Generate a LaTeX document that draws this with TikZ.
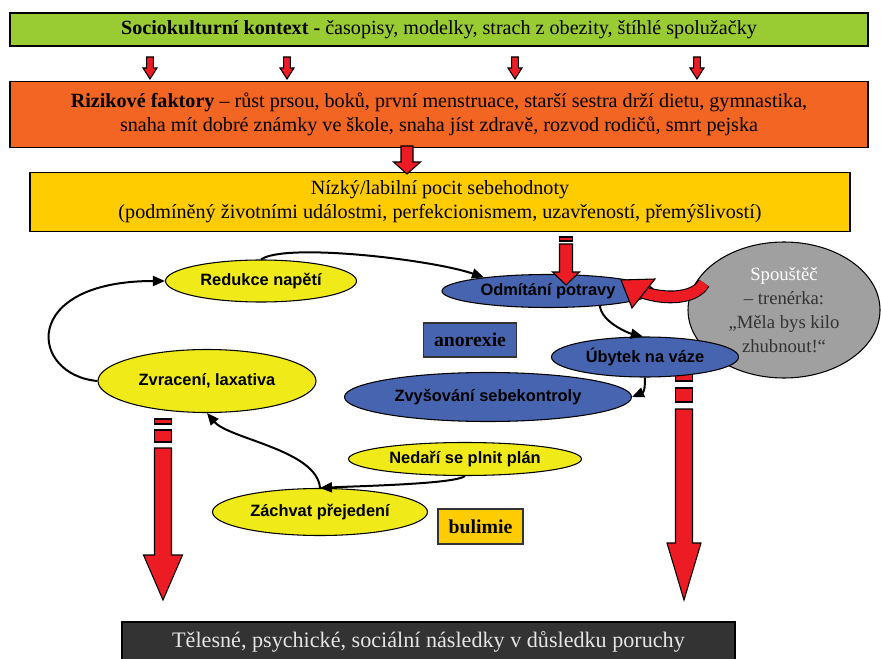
\documentclass[tikz,border=0pt]{standalone}
\usepackage{fontspec}
\setmainfont{Liberation Serif}
\setsansfont{Liberation Sans}
\usepackage{tikz}
\usetikzlibrary{positioning, shapes.geometric, arrows.meta}

\definecolor{ctxgreen}{RGB}{153,204,51}
\definecolor{riskorange}{RGB}{242,101,34}
\definecolor{selfyellow}{RGB}{255,204,0}
\definecolor{ovalyellow}{RGB}{240,234,24}
\definecolor{ovalblue}{RGB}{70,100,176}
\definecolor{triggergrey}{RGB}{160,160,160}
\definecolor{arrowred}{RGB}{237,28,36}
\definecolor{outcomegrey}{RGB}{51,51,51}

\begin{document}
\begin{tikzpicture}[x=0.75pt, y=-0.75pt]
    \tikzstyle{band} = [rectangle, draw=black, line width=0.8pt, text centered, align=center, font=\fontsize{15.1}{18}\selectfont]
    \tikzstyle{oval} = [ellipse, draw=black, line width=0.8pt, inner sep=0pt, font=\sffamily\bfseries\fontsize{12.3}{14}\selectfont]
    \tikzstyle{tag} = [rectangle, draw=black!80, line width=0.8pt, font=\bfseries\fontsize{14.8}{16}\selectfont]
    \tikzstyle{flow} = [-{Triangle[length=9pt, width=7.5pt]}, line width=1.5pt]
    \tikzstyle{fat} = [fill=arrowred, draw=black, line width=0.8pt, line join=miter]
    \useasboundingbox (0,0) rectangle (881,659);

    % boxes on top
    \node (context) [band, fill=ctxgreen, minimum width=643.5pt, minimum height=24.75pt] at (439,29.5)
        {\textbf{Sociokulturní kontext -} časopisy, modelky, strach z obezity, štíhlé spolužačky};
    \node (risk) [band, fill=riskorange, minimum width=643.5pt, minimum height=49.5pt, below=25.5pt of context]
        {\textbf{Rizikové faktory} – růst prsou, boků, první menstruace, starší sestra drží dietu, gymnastika,\\
         snaha mít dobré známky ve škole, snaha jíst zdravě, rozvod rodičů, smrt pejska};
    \node (selfworth) [band, fill=selfyellow, minimum width=615pt, minimum height=44.25pt, below=18pt of risk, xshift=0.75pt]
        {Nízký/labilní pocit sebehodnoty\\
         (podmíněný životními událostmi, perfekcionismem, uzavřeností, přemýšlivostí)};
    \node (outcome) [band, fill=outcomegrey, text=black!10, minimum width=459.75pt, minimum height=30pt,
        font=\fontsize{16.6}{18}\selectfont] at (428.5,642)
        {Tělesné, psychické, sociální následky v důsledku poruchy};

    % small arrows
    \foreach \ax in {150,287,515,697}
        \draw[fat] (\ax-3.4,57) -- (\ax+3.4,57) -- (\ax+3.4,68) -- (\ax+7,68) -- (\ax,79) -- (\ax-7,68) -- (\ax-3.4,68) -- cycle;
    \draw[fat] (401,146) -- (413,146) -- (413,162) -- (420.5,162) -- (407,174) -- (393.5,162) -- (401,162) -- cycle;

    % trigger
    \node (trigger) [ellipse, draw=black, line width=0.8pt, fill=triggergrey, inner sep=0pt, minimum width=144pt, minimum height=102pt,
        align=center, font=\fontsize{14}{18}\selectfont, text=black!80] at (784,310)
        {\textcolor{white}{Spouštěč}\\– trenérka:\\„Měla bys kilo\\zhubnout!“};

    % long arrows
    \draw[fat] (154.5,419) rectangle (171.5,424);
    \draw[fat] (154.5,430) rectangle (171.5,442);
    \draw[fat] (154.5,448) -- (171.5,448) -- (171.5,555) -- (182.5,555) -- (163,600) -- (143.5,555) -- (154.5,555) -- cycle;
    \draw[fat] (675.5,372) rectangle (692.5,381);
    \draw[fat] (675.5,388) rectangle (692.5,402);
    \draw[fat] (675.5,409) -- (692.5,409) -- (692.5,543) -- (701,543) -- (684,600) -- (667,543) -- (675.5,543) -- cycle;

    % cycle
    \node (reduce) [oval, fill=ovalyellow, minimum width=143.25pt, minimum height=31.5pt] at (261,281) {Redukce napětí};
    \node (vomit) [oval, fill=ovalyellow, minimum width=163.5pt, minimum height=47.25pt] at (207,381) {Zvracení, laxativa};
    \node (refuse) [oval, fill=ovalblue, minimum width=159pt, minimum height=24.75pt] at (548,291) {Odmítání potravy};
    \node (loss) [oval, fill=ovalblue, minimum width=140.25pt, minimum height=30pt] at (645,357) {Úbytek na váze};
    \node (control) [oval, fill=ovalblue, minimum width=215.25pt, minimum height=36.75pt] at (488,397) {Zvyšování sebekontroly};
    \node (fail) [oval, fill=ovalyellow, minimum width=174.75pt, minimum height=24.75pt] at (465,459) {Nedaří se plnit plán};
    \node (binge) [oval, fill=ovalyellow, minimum width=161.25pt, minimum height=35.25pt] at (320,512) {Záchvat přejedení};

    \node (anorexia) [tag, fill=ovalblue, minimum width=69.75pt, minimum height=25.5pt] at (470,340) {anorexie};
    \node (bulimia) [tag, fill=selfyellow, minimum width=63.75pt, minimum height=26.25pt] at (480.5,526.5) {bulimie};

    \draw[flow] (reduce.north) .. controls +(24,-17) and +(-53,-18) .. (refuse.168);
    \draw[flow] (vomit.west) .. controls +(-68,-6) and +(-146,0) .. (reduce.west);
    \draw[flow] (refuse.-16) .. controls +(2,17) and +(-13,-3) .. (loss.96);
    \draw[flow] (loss.south) .. controls +(0,10) and +(12,-5) .. (control.east);
    \draw[flow] (fail.south) .. controls +(-10,8) and +(40,-2) .. (binge.north);
    \draw[flow] (binge.north) .. controls +(-3,-38) and +(22,26) .. (vomit.south);

    % red arrows into refusal
    \draw[fat] (559.5,237) rectangle (572.5,241);
    \draw[fat] (559.5,244) -- (572.5,244) -- (572.5,272) -- (579.5,272) -- (566,285) -- (552.5,272) -- (559.5,272) -- cycle;
    \draw[double=arrowred, double distance=8pt, line width=0.8pt] (704,283) .. controls (695,299) and (665,300) .. (642,292);
    \draw[fat] (632,308) -- (621,280) -- (655,279) -- cycle;
\end{tikzpicture}
\end{document}
